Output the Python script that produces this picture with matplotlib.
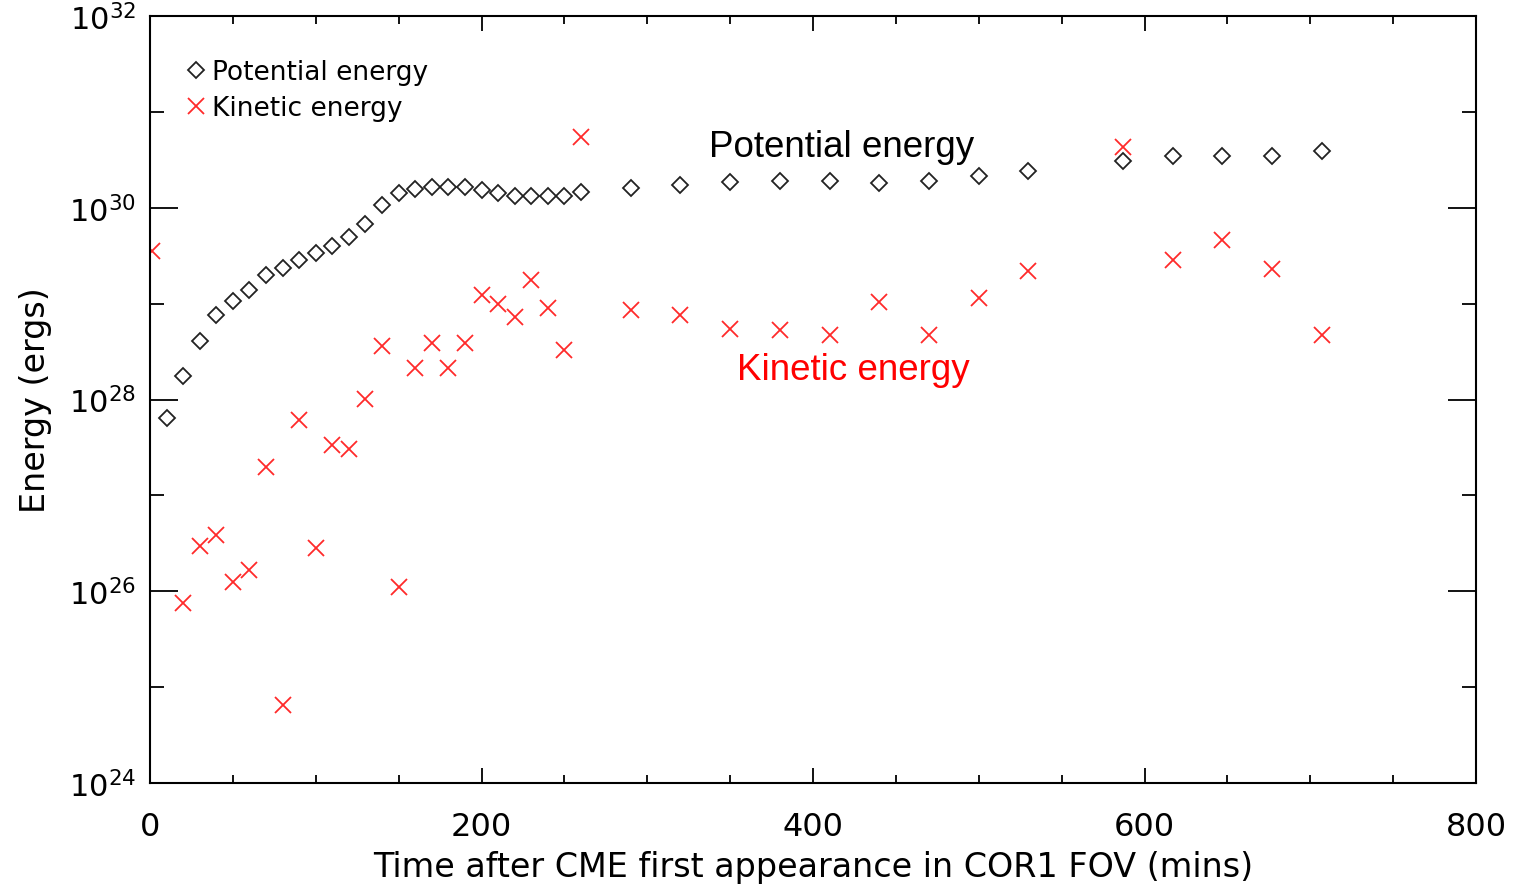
import matplotlib
matplotlib.use("Agg")
import matplotlib.pyplot as plt
from matplotlib.ticker import FixedLocator, FixedFormatter, NullFormatter

# --- data (log10 of energy in ergs) ---
pe_time = [10, 20, 30, 40, 50, 60, 70, 80, 90, 100, 110, 120, 130, 140, 150,
           160, 170, 180, 190, 200, 210, 220, 230, 240, 250, 260,
           290, 320, 350, 380, 410, 440, 470, 500, 530, 587, 617, 647, 677, 707]
pe_log = [27.81, 28.25, 28.61, 28.88, 29.03, 29.14, 29.30, 29.37, 29.46, 29.53,
          29.60, 29.69, 29.83, 30.03, 30.15, 30.20, 30.22, 30.22, 30.22, 30.18,
          30.15, 30.12, 30.12, 30.12, 30.12, 30.16,
          30.21, 30.24, 30.27, 30.28, 30.28, 30.26, 30.28, 30.33, 30.38,
          30.49, 30.54, 30.54, 30.54, 30.59]

ke_time = [1, 20, 30, 40, 50, 60, 70, 80, 90, 100, 110, 120, 130, 140, 150,
           160, 170, 180, 190, 200, 210, 220, 230, 240, 250, 260,
           290, 320, 350, 380, 410, 440, 470, 500, 530, 587, 617, 647, 677, 707]
ke_log = [29.55, 25.88, 26.47, 26.59, 26.10, 26.22, 27.30, 24.81, 27.79, 26.45,
          27.53, 27.48, 28.01, 28.56, 26.04, 28.33, 28.59, 28.33, 28.59, 29.09,
          29.00, 28.86, 29.25, 28.95, 28.52, 30.74,
          28.93, 28.88, 28.74, 28.73, 28.67, 29.02, 28.67, 29.06, 29.34,
          30.63, 29.45, 29.66, 29.36, 28.67]

x_ticks = [0, 200, 400, 600, 800]
x_ticklabels = ["0", "200", "400", "600", "800"]
y_ticks = [1e24, 1e26, 1e28, 1e30, 1e32]
y_ticklabels = [r"$10^{24}$", r"$10^{26}$", r"$10^{28}$", r"$10^{30}$", r"$10^{32}$"]

pe_vals = [10 ** v for v in pe_log]
ke_vals = [10 ** v for v in ke_log]

fig = plt.figure(figsize=(15.17, 8.87), dpi=100)
ax = fig.add_axes([150 / 1517, 1 - 784 / 887, (1476 - 150) / 1517, (784 - 17) / 887])

ax.plot(pe_time, pe_vals, linestyle="none", marker="D", markersize=8.5,
        markerfacecolor="none", markeredgecolor="#222222", markeredgewidth=1.3,
        label="Potential energy")
ax.plot(ke_time, ke_vals, linestyle="none", marker="x", markersize=12,
        color="#ff2a2a", markeredgewidth=1.3, label="Kinetic energy")

ax.set_yscale("log")
ax.set_xlim(0, 800)
ax.set_ylim(1e24, 1e32)

ax.xaxis.set_major_locator(FixedLocator(x_ticks))
ax.xaxis.set_major_formatter(FixedFormatter(x_ticklabels))
ax.xaxis.set_minor_locator(FixedLocator(list(range(0, 801, 50))))
ax.yaxis.set_major_locator(FixedLocator(y_ticks))
ax.yaxis.set_major_formatter(FixedFormatter(y_ticklabels))
ax.yaxis.set_minor_locator(FixedLocator([1e25, 1e27, 1e29, 1e31]))
ax.yaxis.set_minor_formatter(NullFormatter())

ax.tick_params(axis="x", which="major", direction="in", top=True, bottom=True,
               length=11, width=1.3, labelsize=23, pad=20)
ax.tick_params(axis="x", which="minor", direction="in", top=True, bottom=True,
               length=6, width=1.3)
ax.tick_params(axis="y", which="major", direction="in", left=True, right=True,
               length=20, width=1.3, labelsize=22, pad=10)
ax.tick_params(axis="y", which="minor", direction="in", left=True, right=True,
               length=10, width=1.3)
for s in ax.spines.values():
    s.set_linewidth(1.5)

ax.set_xlabel("Time after CME first appearance in COR1 FOV (mins)", fontsize=24,
              labelpad=6)
ax.set_ylabel("Energy (ergs)", fontsize=24, labelpad=12)

ax.legend(loc="upper left", bbox_to_anchor=(0.017, 0.958), frameon=False,
          fontsize=19, handletextpad=0.1, handlelength=1.0, borderaxespad=0,
          labelspacing=0.38)

ax.text(417, 10 ** 30.54, "Potential energy", fontsize=26.5, color="black",
        ha="center", va="baseline", family="Liberation Sans")
ax.text(424.5, 10 ** 28.215, "Kinetic energy", fontsize=26.5, color="red",
        ha="center", va="baseline", family="Liberation Sans")

fig.savefig("out.png", dpi=100)
